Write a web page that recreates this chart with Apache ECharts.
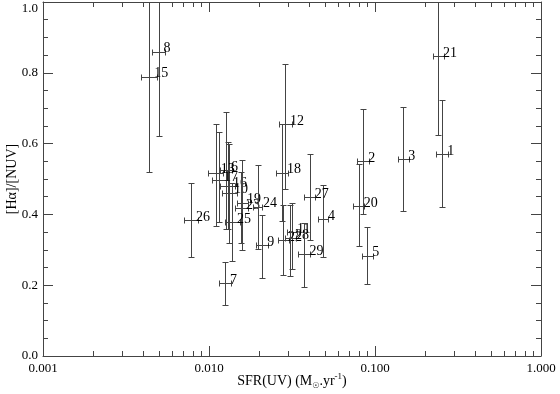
<!DOCTYPE html>
<html>
<head>
<meta charset="utf-8">
<script src="https://cdn.jsdelivr.net/npm/echarts@6/dist/echarts.min.js"></script>
<style>
  html, body { margin: 0; background: #fff; }
  #chart { width: 560px; height: 394px; }
</style>
</head>
<body>
<div id="chart"></div>
<script>
const ids      = [1, 2, 3, 4, 5, 6, 7, 8, 9, 10, 11, 12, 13, 15, 16, 17, 18, 19, 20, 21, 22, 23, 24, 25, 26, 27, 28, 29]
const sfr      = [0.254, 0.0851, 0.148, 0.0486, 0.0899, 0.01265, 0.01248, 0.00497, 0.0209, 0.01318, 0.0316, 0.0287, 0.0110, 0.00436, 0.0130, 0.01148, 0.0275, 0.0158, 0.0798, 0.240, 0.0279, 0.0156, 0.0197, 0.01377, 0.00780, 0.0405, 0.0308, 0.0376]
const sfrLo    = [0.233, 0.0782, 0.138, 0.0452, 0.0832, 0.01164, 0.01153, 0.00455, 0.0192, 0.01197, 0.0295, 0.0264, 0.00986, 0.00389, 0.01164, 0.01042, 0.0254, 0.01476, 0.0740, 0.224, 0.0260, 0.01435, 0.0184, 0.01248, 0.00710, 0.0373, 0.0287, 0.0345]
const sfrHi    = [0.275, 0.0917, 0.160, 0.0524, 0.0969, 0.01377, 0.01352, 0.00543, 0.0227, 0.01476, 0.0339, 0.0316, 0.0122, 0.00484, 0.01435, 0.01265, 0.0299, 0.01718, 0.0863, 0.261, 0.0303, 0.01718, 0.0209, 0.01538, 0.00863, 0.0436, 0.0334, 0.0405]
const ratio    = [0.571, 0.550, 0.556, 0.387, 0.283, 0.525, 0.205, 0.860, 0.314, 0.461, 0.350, 0.655, 0.518, 0.789, 0.480, 0.497, 0.518, 0.433, 0.424, 0.847, 0.328, 0.418, 0.422, 0.379, 0.384, 0.448, 0.333, 0.288]
const ratioLo  = [0.421, 0.401, 0.410, 0.279, 0.203, 0.359, 0.144, 0.622, 0.219, 0.320, 0.246, 0.472, 0.367, 0.521, 0.359, 0.379, 0.380, 0.300, 0.311, 0.624, 0.229, 0.320, 0.302, 0.268, 0.279, 0.328, 0.226, 0.194]
const ratioHi  = [0.723, 0.698, 0.704, 0.483, 0.364, 0.689, 0.265, 1.098, 0.398, 0.600, 0.432, 0.825, 0.655, 1.057, 0.605, 0.633, 0.655, 0.554, 0.542, 1.070, 0.427, 0.520, 0.540, 0.490, 0.488, 0.571, 0.427, 0.376]

// log-axis minor tick positions (2..9 in each decade)
const xMinorTicks = [0.002, 0.003, 0.004, 0.005, 0.006, 0.007, 0.008, 0.009,
                     0.02, 0.03, 0.04, 0.05, 0.06, 0.07, 0.08, 0.09,
                     0.2, 0.3, 0.4, 0.5, 0.6, 0.7, 0.8, 0.9]

const FONT = 'Liberation Serif'
const INK = '#444'

const rows = ids.map((id, i) => [sfr[i], ratio[i], sfrLo[i], sfrHi[i], ratioLo[i], ratioHi[i]])

function px(v) { return Math.round(v) + 0.5 }

function renderBars(params, api) {
  const cs = params.coordSys
  const top = cs.y
  const i = params.dataIndex
  const c = api.coord([api.value(0), api.value(1)])
  const xl = api.coord([api.value(2), api.value(1)])[0]
  const xh = api.coord([api.value(3), api.value(1)])[0]
  const yl = api.coord([api.value(0), api.value(4)])[1]
  const yh = api.coord([api.value(0), api.value(5)])[1]
  const cx = px(c[0]), cy = px(c[1])
  const st = { stroke: INK, lineWidth: 1 }
  const ch = []
  const line = (x1, y1, x2, y2) => ch.push({ type: 'line', shape: { x1, y1, x2, y2 }, style: st })
  line(cx, Math.max(px(yh), top), cx, px(yl))
  if (yh >= top) line(cx - 3, px(yh), cx + 3, px(yh))
  line(cx - 3, px(yl), cx + 3, px(yl))
  line(px(xl), cy, px(xh), cy)
  line(px(xl), cy - 3, px(xl), cy + 3)
  line(px(xh), cy - 3, px(xh), cy + 3)
  ch.push({
    type: 'text', x: c[0] + 5, y: c[1] - 3,
    style: { text: String(ids[i]), fill: '#000', fontSize: 14, fontFamily: FONT, verticalAlign: 'middle' }
  })
  return { type: 'group', children: ch }
}

function renderMinor(params, api) {
  const cs = params.coordSys
  const x = px(api.coord([api.value(0), 0.5])[0])
  const b = cs.y + cs.height, t = cs.y
  const st = { stroke: INK, lineWidth: 1 }
  return {
    type: 'group',
    children: [
      { type: 'line', shape: { x1: x, y1: b, x2: x, y2: b - 5 }, style: st },
      { type: 'line', shape: { x1: x, y1: t, x2: x, y2: t + 5 }, style: st }
    ]
  }
}

const chart = echarts.init(document.getElementById('chart'))

const axisCommon = {
  axisLine: { show: true, onZero: false, lineStyle: { color: INK, width: 1 } },
  axisTick: { show: true, inside: true, length: 10, lineStyle: { color: INK } },
  splitLine: { show: false }
}

chart.setOption({
  animation: false,
  backgroundColor: '#fff',
  textStyle: { fontFamily: FONT },
  grid: { left: 43, right: 19, top: 2, bottom: 38, outerBoundsMode: 'none', containLabel: false },
  xAxis: [
    Object.assign({
      type: 'log', logBase: 10, min: 0.001, max: 1, position: 'bottom',
      axisLabel: { color: '#000', fontSize: 13, fontFamily: FONT, margin: 6, formatter: v => Number(v).toFixed(3) },
      name: '{a|SFR(UV) (M}{s|☉}{a|.yr}{p|-1}{a|)}',
      nameLocation: 'middle', nameGap: 16, nameMoveOverlap: false,
      nameTextStyle: {
        rich: {
          a: { fontSize: 14, fontFamily: FONT, color: '#000', lineHeight: 18 },
          s: { fontSize: 8, fontFamily: 'DejaVu Sans', color: '#000', verticalAlign: 'bottom', lineHeight: 18, padding: [6, 0, 0, 0] },
          p: { fontSize: 9, fontFamily: FONT, color: '#000', verticalAlign: 'top', lineHeight: 18, padding: [0, 0, 6, 0] }
        }
      }
    }, axisCommon),
    Object.assign({
      type: 'log', logBase: 10, min: 0.001, max: 1, position: 'top',
      axisLabel: { show: false }
    }, axisCommon)
  ],
  yAxis: [
    Object.assign({
      type: 'value', min: 0, max: 1, interval: 0.2, position: 'left',
      minorTick: { show: true, splitNumber: 4, length: 5, lineStyle: { color: INK } },
      axisLabel: { color: '#000', fontSize: 13, fontFamily: FONT, margin: 5, verticalAlignMaxLabel: 'top', formatter: v => v.toFixed(1) },
      name: '[Hα]/[NUV]', nameLocation: 'middle', nameGap: 24, nameMoveOverlap: false,
      nameTextStyle: { color: '#000', fontSize: 14, fontFamily: FONT }
    }, axisCommon),
    Object.assign({
      type: 'value', min: 0, max: 1, interval: 0.2, position: 'right',
      minorTick: { show: true, splitNumber: 4, length: 5, lineStyle: { color: INK } },
      axisLabel: { show: false }
    }, axisCommon)
  ],
  series: [
    {
      type: 'custom', xAxisIndex: 0, yAxisIndex: 0,
      data: xMinorTicks.map(v => [v]),
      renderItem: renderMinor, silent: true
    },
    {
      type: 'custom', xAxisIndex: 0, yAxisIndex: 0,
      data: rows, renderItem: renderBars, clip: true
    }
  ]
})
</script>
</body>
</html>
